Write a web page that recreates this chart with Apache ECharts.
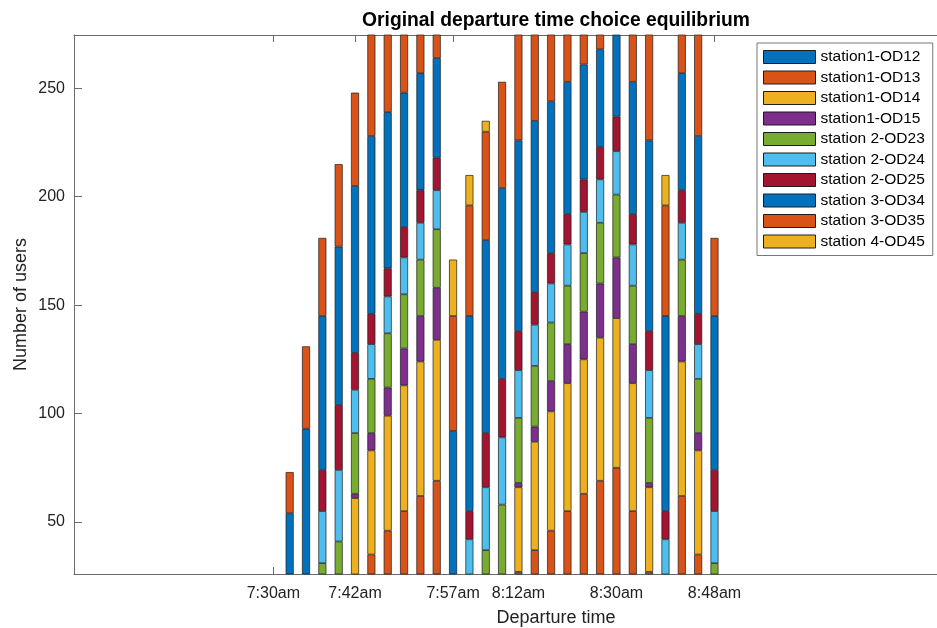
<!DOCTYPE html>
<html>
<head>
<meta charset="utf-8">
<title>Original departure time choice equilibrium</title>
<script src="https://cdn.jsdelivr.net/npm/echarts@6/dist/echarts.min.js"></script>
<style>
	html, body { margin: 0; padding: 0; background: #fff; overflow: hidden; }
	#chart { width: 1112px; height: 628px; }
</style>
</head>
<body>
<div id="chart"></div>
<script>
	// departure slots, one stacked bar per slot
	const slots = [1,2,3,4,5,6,7,8,9,10,11,12,13,14,15,16,17,18,19,20,21,22,23,24,25,26,27];
	// x tick positions (slot index) and their labels
	const tickSlots = [0, 5, 11, 15, 21, 27];
	const tickLabels = ['7:30am', '7:42am', '7:57am', '8:12am', '8:30am', '8:48am'];
	const yTicks = [50, 100, 150, 200, 250];

	const seriesNames = ['station1-OD12','station1-OD13','station1-OD14','station1-OD15','station 2-OD23',
		'station 2-OD24','station 2-OD25','station 3-OD34','station 3-OD35','station 4-OD45'];

	// number of users per slot (null = nothing there / not visible)
	const od12 = [null,null,null,null,null,null,null,null,null,null,null,null,null,null,null,null,null,null,null,null,null,null,null,null,null,null,null];
	const od13 = [null,null,null,null,null,35,46,55,62,69,null,null,null,null,27,37,46,55,63,69,75,55,27,null,62,35,null];
	const od14 = [null,null,null,null,61,48,53,58,62,65,null,null,null,null,39,50,55,59,62,66,69,59,39,null,62,48,null];
	const od15 = [null,null,null,null,2,8,13,17,21,24,null,null,null,null,2,7,14,18,22,25,28,18,2,null,21,8,null];
	const od23 = [null,null,31,41,28,25,25,25,26,27,null,null,37,58,30,28,27,27,27,28,29,27,30,null,26,25,31];
	const od24 = [null,null,24,33,20,16,17,17,17,18,null,42,29,31,22,19,18,19,19,20,20,19,22,42,17,16,24];
	const od25 = [null,null,19,30,17,14,13,14,15,15,null,13,25,27,18,15,14,14,15,15,16,14,18,13,15,14,19];
	const od34 = [54,93,71,73,77,82,72,62,54,46,92,90,89,88,88,79,70,61,53,45,45,61,88,90,54,82,71];
	const od35 = [19,38,36,38,43,60,55,50,45,40,53,51,50,49,60,55,50,45,40,35,20,45,60,51,45,60,36];
	const od45 = [null,null,null,null,null,null,null,null,null,null,26,14,5,null,null,null,null,null,null,null,null,null,null,14,null,null,null];

	const allData = [od12, od13, od14, od15, od23, od24, od25, od34, od35, od45];
	// matlab default colour order (cycles after 7)
	const colors = ['#0072BD','#D95319','#EDB120','#7E2F8E','#77AC30','#4DBEEE','#A2142F','#0072BD','#D95319','#EDB120'];

	const fontFam = '"Liberation Sans", Helvetica, Arial, sans-serif';
	const axisGrey = '#6b6b6b';

	const chart = echarts.init(document.getElementById('chart'));

	// value first so that the stack is done on the y dimension
	const series = allData.map((arr, k) => ({
		name: seriesNames[k],
		type: 'bar',
		stack: 'users',
		barWidth: 8,
		encode: { x: 1, y: 0 },
		data: slots.map((s, i) => [arr[i], s]),
		itemStyle: { color: colors[k], borderColor: '#1c1c1c', borderWidth: 0.7 },
	}));

	const option = {
		animation: false,
		backgroundColor: '#fff',
		textStyle: { fontFamily: fontFam },
		title: {
			text: 'Original departure time choice equilibrium',
			left: 'center',
			top: 6,
			textStyle: { fontFamily: fontFam, fontSize: 19.3, fontWeight: 'bold', color: '#000' }
		},
		grid: { left: 74, right: 74, top: 35, bottom: 54, outerBoundsMode: 'none' },
		legend: {
			orient: 'vertical',
			left: 757,
			top: 43,
			data: seriesNames,
			icon: 'rect',
			itemWidth: 52,
			itemHeight: 13,
			itemGap: 4.5,
			padding: [6, 8, 6, 6],
			backgroundColor: '#fff',
			borderColor: '#777',
			borderWidth: 1,
			borderRadius: 0,
			itemStyle: { borderColor: '#1c1c1c', borderWidth: 1 },
			textStyle: { fontFamily: fontFam, fontSize: 15.5, color: '#000' }
		},
		xAxis: [{
			type: 'value',
			position: 'bottom',
			min: -12.2,
			max: 46.8,
			name: 'Departure time',
			nameLocation: 'middle',
			nameGap: 35,
			nameTextStyle: { fontFamily: fontFam, fontSize: 18, color: '#222' },
			axisLine: { onZero: false, lineStyle: { color: axisGrey, width: 1 } },
			axisTick: { inside: true, length: 7, customValues: tickSlots, lineStyle: { color: axisGrey } },
			axisLabel: {
				customValues: tickSlots,
				margin: 12,
				fontSize: 16,
				color: '#222',
				formatter: function (v) {
					let idx = tickSlots.indexOf(v);
					return idx >= 0 ? tickLabels[idx] : '';
				}
			},
			splitLine: { show: false }
		}, {
			// mirrored ticks + top border (matlab box on)
			type: 'value',
			position: 'top',
			min: -12.2,
			max: 46.8,
			axisLine: { onZero: false, lineStyle: { color: axisGrey, width: 1 } },
			axisTick: { inside: true, length: 7, customValues: tickSlots, lineStyle: { color: axisGrey } },
			axisLabel: { show: false },
			splitLine: { show: false }
		}],
		yAxis: {
			type: 'value',
			min: 26,
			max: 274.6,
			name: 'Number of users',
			nameLocation: 'middle',
			nameGap: 44,
			nameMoveOverlap: false,
			nameTextStyle: { fontFamily: fontFam, fontSize: 18, color: '#222' },
			axisLine: { show: true, onZero: false, lineStyle: { color: axisGrey, width: 1 } },
			axisTick: { show: true, inside: true, length: 8, customValues: yTicks, lineStyle: { color: axisGrey } },
			axisLabel: { customValues: yTicks, margin: 9, fontSize: 16, color: '#222' },
			splitLine: { show: false }
		},
		series: series
	};

	chart.setOption(option);
</script>
</body>
</html>
